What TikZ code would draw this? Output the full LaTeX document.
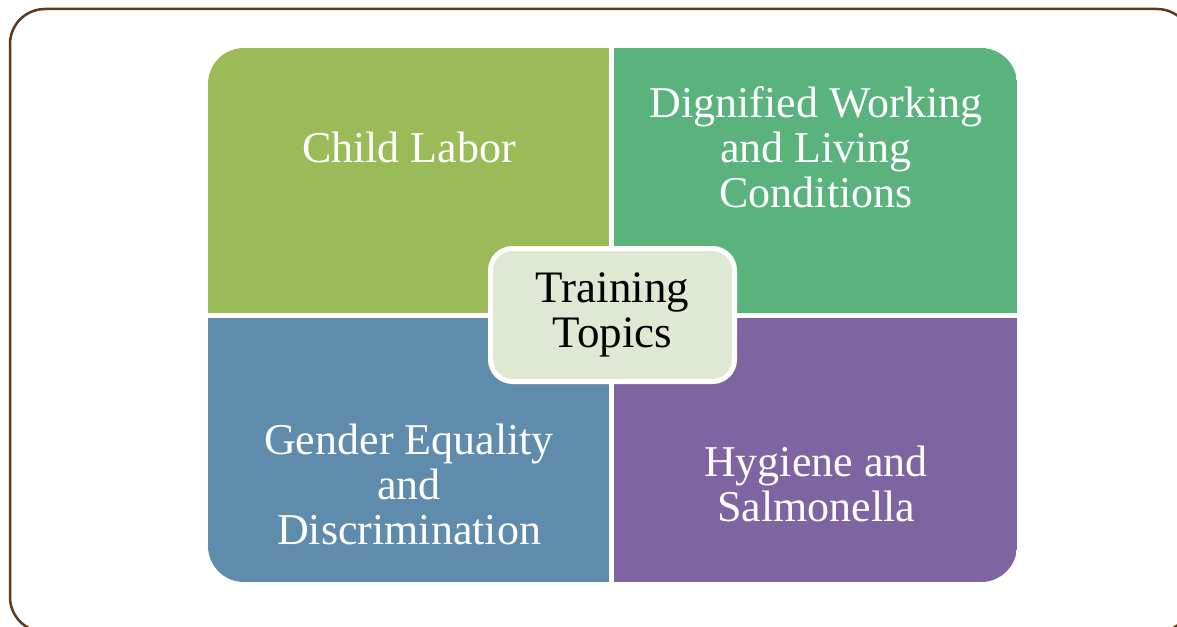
\documentclass[tikz,border=0pt]{standalone}
\usepackage{fontspec}
\setmainfont{Liberation Serif}
\usetikzlibrary{positioning}
\definecolor{framebrown}{HTML}{5E3A1A}
\definecolor{childgreen}{HTML}{9BBB59}
\definecolor{workgreen}{HTML}{5AB37D}
\definecolor{genderblue}{HTML}{5F8CAD}
\definecolor{hygpurple}{HTML}{7F64A2}
\definecolor{hubfill}{HTML}{DEE8D2}
\begin{document}
\begin{tikzpicture}[x=1pt,y=-1pt,
  topic/.style={text=white,align=center,font=\fontsize{44}{45}\selectfont},
  hub/.style={draw=white,line width=5pt,fill=hubfill,rounded corners=22pt,
    minimum width=244pt,minimum height=133pt,align=center,
    font=\fontsize{45}{45}\selectfont}]
\useasboundingbox (0,0) rectangle (1177,626);
\draw[framebrown,line width=2.5pt,rounded corners=35pt] (10,9) rectangle (1192,632);
\begin{scope}
\clip[rounded corners=36pt] (208,48) rectangle (1017,582);
\fill[childgreen] (208,48) rectangle (609,313);
\fill[workgreen] (614,48) rectangle (1017,313);
\fill[genderblue] (208,318) rectangle (609,582);
\fill[hygpurple] (614,318) rectangle (1017,582);
\end{scope}
\node[topic] (child) at (409,147) {Child Labor};
\node[topic] (work) at (816,147) {Dignified Working\\and Living\\Conditions};
\node[topic] (gender) at (409,484) {Gender Equality\\and\\Discrimination};
\node[topic] (hygiene) at (816,484) {Hygiene and\\Salmonella};
\node[hub] (training) at (612.5,315) {Training\\Topics};
\end{tikzpicture}
\end{document}
